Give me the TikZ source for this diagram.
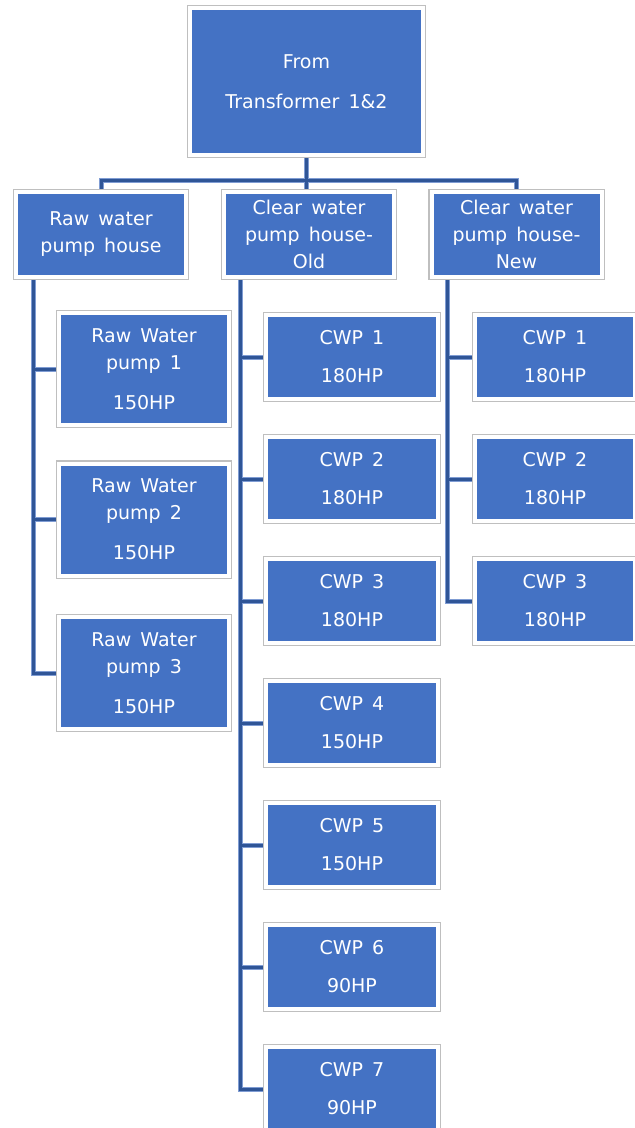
\documentclass[tikz,border=0pt]{standalone}
\usepackage{fontspec}
\setmainfont[WordSpace=1.5]{DejaVu Sans}
\usepackage{xcolor}
\usetikzlibrary{calc, positioning}

\definecolor{boxblue}{HTML}{4472C4}
\definecolor{linkblue}{HTML}{2F5597}
\definecolor{linkedge}{HTML}{7F9CD3}
\definecolor{framegray}{HTML}{BFBFBF}

\pgfdeclarelayer{background}
\pgfsetlayers{background,main}

\tikzset{
  unitbox/.style={fill=boxblue, draw=white, line width=4pt,
    preaction={draw=framegray, line width=6.6pt},
    text=white, font=\fontsize{19}{27}\selectfont, align=center, inner sep=0pt},
  topbox/.style={unitbox, minimum width=233pt, minimum height=147pt},
  housebox/.style={unitbox, minimum width=170pt, minimum height=85pt},
  rawbox/.style={unitbox, minimum width=170pt, minimum height=112pt},
  cwpbox/.style={unitbox, minimum width=172pt, minimum height=84pt},
  conn/.style={draw=linkblue, line width=3pt, preaction={draw=linkedge, line width=5pt}}
}

\begin{document}
\begin{tikzpicture}[x=1pt, y=-1pt]
    % --- khung hinh
    \useasboundingbox (0,0) rectangle (635,1128);
    \clip (0,0) rectangle (635,1128);
    \def\busy{180}
    \def\pitch{122}

    % Nguon
    \node[topbox] (src) at (306.5,81.5) {From\\[13pt]Transformer 1\&2};

    % Ba nha bom
    \node[housebox] (rawhouse) at (101,234.5) {Raw water\\pump house};
    \node[housebox] (oldhouse) at (309,234.5) {Clear water\\pump house-\\Old};
    \node[housebox] (newhouse) at (516.5,234.5) {Clear water\\pump house-\\New};

    % Bom nuoc tho
    \foreach \i/\y in {1/369,2/519.5,3/673}
        \node[rawbox] (rp\i) at (144,\y) {Raw Water\\pump \i\\[13pt]150HP};

    % CWP - nha cu
    \foreach \i/\hp in {1/180,2/180,3/180,4/150,5/150,6/90,7/90}
        \node[cwpbox] (old\i) at (352,{357+\pitch*(\i-1)}) {CWP \i\\[11pt]\hp HP};

    % CWP - nha moi
    \foreach \i in {1,2,3}
        \node[cwpbox, minimum width=160pt] (new\i) at (555,{357+\pitch*(\i-1)}) {CWP \i\\[11pt]180HP};

    % Duong noi
    \coordinate (bus) at (0,\busy);
    \coordinate (rawspine) at (33,0);
    \coordinate (oldspine) at (240,0);
    \coordinate (newspine) at (447,0);
    \begin{pgfonlayer}{background}
    \draw[conn] (src.south) -- (src.south |- oldhouse.north)
        (rawhouse.north) -- (rawhouse.north |- bus) -- (newhouse.north |- bus) -- (newhouse.north)
        (rawspine |- rawhouse.south) -- (rawspine |- rp3.west) -- (rp3.west)
        foreach \i in {1,2} {(rawspine |- rp\i.west) -- (rp\i.west)}
        (oldspine |- oldhouse.south) -- (oldspine |- old7.west) -- (old7.west)
        foreach \i in {1,...,6} {(oldspine |- old\i.west) -- (old\i.west)}
        (newspine |- newhouse.south) -- (newspine |- new3.west) -- (new3.west)
        foreach \i in {1,2} {(newspine |- new\i.west) -- (new\i.west)};
    \end{pgfonlayer}
\end{tikzpicture}
\end{document}
